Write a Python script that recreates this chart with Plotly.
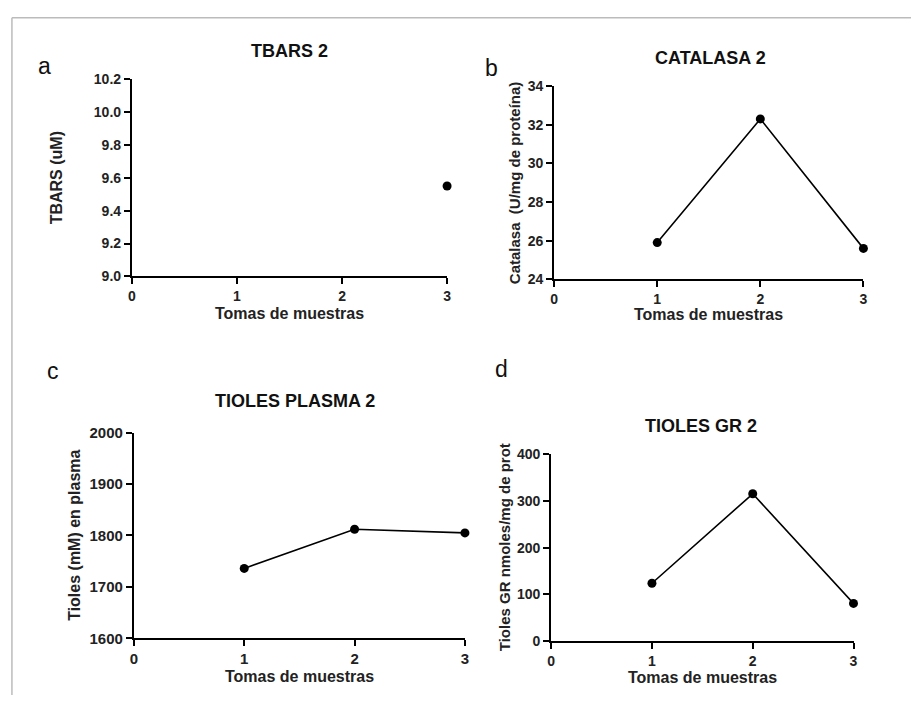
import plotly.graph_objects as go

# Data
muestras = [1, 2, 3]
tbars_x = [3]
tbars = [9.55]
catalasa = [25.9, 32.3, 25.6]
tioles_plasma = [1736, 1812, 1805]
tioles_gr = [124, 315, 81]

panels = [
    # (title, letter, ytitle, xs, ys, yrange, dtick, xdom, ydom)
    ("TBARS 2", "a", "TBARS (uM)", tbars_x, tbars, [9.0, 10.2], 0.2,
     [129/915, 447/915], [1-274/703, 1-72/703]),
    ("CATALASA 2", "b", "Catalasa  (U/mg de proteína)", muestras, catalasa, [24, 34], 2,
     [555/915, 867/915], [1-277/703, 1-79/703]),
    ("TIOLES PLASMA 2", "c", "Tioles (mM) en plasma", muestras, tioles_plasma, [1600, 2000], 100,
     [131/915, 465/915], [1-645/703, 1-434/703]),
    ("TIOLES GR 2", "d", "Tioles GR nmoles/mg de prot", muestras, tioles_gr, [0, 400], 100,
     [552/915, 857/915], [1-648/703, 1-456/703]),
]

title_pos = [(288, 43), (713, 50), (294, 402), (703, 427)]
letter_pos = [(41, 58), (492, 60), (49, 371), (502, 369)]
ytitle_x = [53, 515, 71, 505]
ytitle_size = [16, 15, 16, 15]
xtitle_y = [312, 313, 684, 685]
tick_size = [14, 14, 15, 14]

fig = go.Figure()
ann = []
FAM = "Liberation Sans, Arial, sans-serif"
bold = dict(family=FAM, weight="bold")

for i, (title, letter, ytitle, xs, ys, yr, dt, xd, yd) in enumerate(panels):
    n = "" if i == 0 else str(i + 1)
    fig.add_trace(go.Scatter(
        x=xs, y=ys, mode="lines+markers",
        line=dict(color="black", width=1.6),
        marker=dict(color="black", size=9),
        xaxis="x" + n, yaxis="y" + n, cliponaxis=False, showlegend=False))
    common = dict(showgrid=False, zeroline=False, showline=True, linecolor="black",
                  linewidth=2, ticks="outside", ticklen=6, tickwidth=2, tickcolor="black",
                  tickfont=dict(size=tick_size[i], color="#222", **bold))
    fig.update_layout(**{
        "xaxis" + n: dict(domain=xd, range=[0, 3], dtick=1, tick0=0,
                          anchor="y" + n, **common),
        "yaxis" + n: dict(domain=yd, range=yr, dtick=dt, anchor="x" + n,
                          tickformat=".1f" if i == 0 else "d", **common),
    })
    cx = (xd[0] + xd[1]) / 2 * 915
    ann.append(dict(text=title, x=title_pos[i][0] / 915, y=1 - title_pos[i][1] / 703,
                    xref="paper", yref="paper", showarrow=False,
                    xanchor="center", yanchor="middle",
                    font=dict(size=18, color="#111", **bold)))
    ann.append(dict(text=letter, x=letter_pos[i][0] / 915, y=1 - letter_pos[i][1] / 703,
                    xref="paper", yref="paper", showarrow=False,
                    xanchor="center", yanchor="middle",
                    font=dict(size=23, color="#111", family=FAM)))
    ann.append(dict(text=ytitle, x=ytitle_x[i] / 915, y=(yd[0] + yd[1]) / 2,
                    xref="paper", yref="paper", showarrow=False, textangle=-90,
                    xanchor="center", yanchor="middle",
                    font=dict(size=ytitle_size[i], color="#222", **bold)))
    ann.append(dict(text="Tomas de muestras", x=cx / 915, y=1 - xtitle_y[i] / 703,
                    xref="paper", yref="paper", showarrow=False,
                    xanchor="center", yanchor="middle",
                    font=dict(size=16, color="#222", **bold)))

fig.update_layout(
    width=915, height=703, margin=dict(l=0, r=0, t=0, b=0),
    paper_bgcolor="white", plot_bgcolor="white",
    annotations=ann,
    shapes=[
        dict(type="line", xref="paper", yref="paper", x0=8/915, x1=1, y0=1-9/703, y1=1-9/703,
             line=dict(color="#bbbbbb", width=1.5)),
        dict(type="line", xref="paper", yref="paper", x0=8/915, x1=8/915, y0=0, y1=1-9/703,
             line=dict(color="#bbbbbb", width=1.5)),
    ],
)

fig.write_html(
    "out.html",
    config={"displayModeBar": False},
    post_script="document.body.style.margin='0';document.documentElement.style.overflow='hidden';",
)
